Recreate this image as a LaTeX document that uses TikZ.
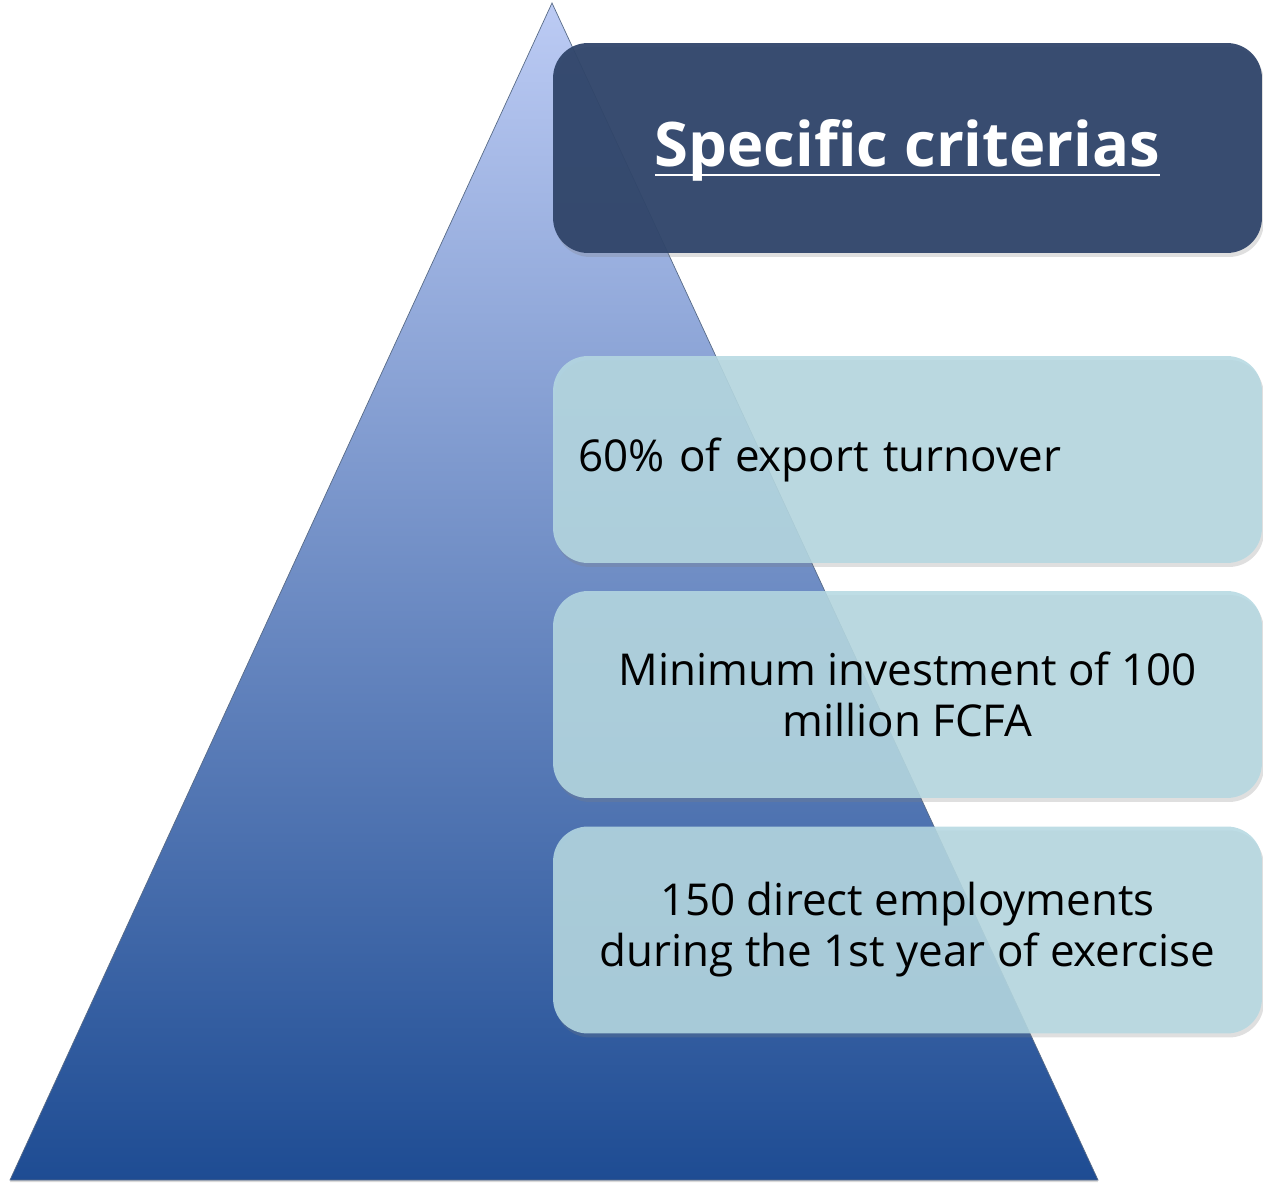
\documentclass[tikz,border=0pt]{standalone}
\usepackage{fontspec}
\setmainfont{Open Sans}
\usetikzlibrary{shadows}

\definecolor{headblue}{HTML}{30456A}
\definecolor{critblue}{HTML}{B5D8E1}
\definecolor{pyrtop}{HTML}{BCCBF4}
\definecolor{pyrmid}{HTML}{8595CA}
\definecolor{pyrbottom}{HTML}{1E4C93}

\newcommand{\ulhead}[1]{\vtop{\hbox{\raisebox{0pt}[\height][0pt]{#1}}\kern 4pt\hrule height 1.6pt}}

\tikzset{
	crit/.style = {rectangle, rounded corners = 0.7cm, fill = critblue, fill opacity = 0.88, text opacity = 1,
		minimum width = 14.18cm, minimum height = 4.14cm, align = center,
		font = \fontsize{25}{29}\selectfont,
		drop shadow = {opacity = 0.25, shadow xshift = 0.04cm, shadow yshift = -0.08cm}},
	head/.style = {crit, fill = headblue, fill opacity = 0.95, text = white, minimum height = 4.2cm,
		font = \fontsize{35}{40}\selectfont\bfseries}
}

\begin{document}
\begin{tikzpicture}[x = 0.02cm, y = -0.02cm]
	\useasboundingbox (0,0) rectangle (1263,1182);

	% pyramid
	\draw[draw = pyrbottom!40!gray, top color = pyrtop, middle color = pyrmid, bottom color = pyrbottom,
		drop shadow = {opacity = 0.3, shadow xshift = 0cm, shadow yshift = -0.04cm}]
	(552,3) -- (1098,1180) -- (10,1180) -- cycle;

	% boxes
	\draw
	(907.5,148) node[head](Title){\ulhead{Specific criterias}}
	(907.5,459.5) node[crit, align = left, text width = 13.18cm, inner xsep = 0.5cm](Export){60\% of export turnover}
	(907.5,694.5) node[crit](Invest){Minimum investment of 100\\million FCFA}
	(907.5,930) node[crit](Jobs){150 direct employments\\during the 1st year of exercise};
\end{tikzpicture}
\end{document}
